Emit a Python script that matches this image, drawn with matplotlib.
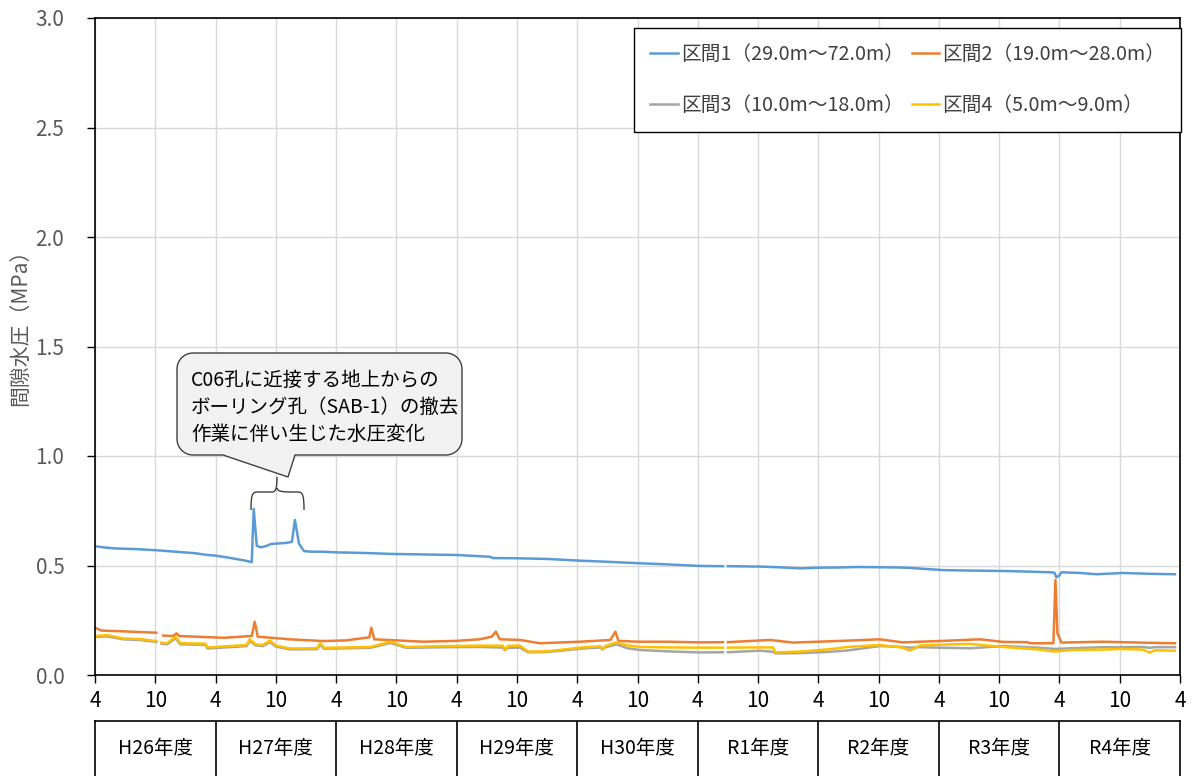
import numpy as np
import matplotlib
matplotlib.use("Agg")
import matplotlib.pyplot as plt
from matplotlib.path import Path
from matplotlib.patches import PathPatch
from matplotlib.transforms import Affine2D

plt.rcParams['font.family'] = ['Noto Sans CJK JP', 'DejaVu Sans']

nan = np.nan

# ---- data (t = months since April of H26) ----
t1 = [0, 1, 2, 4, 6, 8, 10, 11, 12, 13,
      14, 15, 15.6, 15.8, 16.1, 16.5, 17, 17.5, 18, 19,
      19.6, 19.9, 20.3, 20.8, 21.5, 22.7, 24, 27, 29.4, 32,
      36, 39.3, 39.6, 42, 45, 48.3, 51, 54.3, 57, 60.2,
      62.5, 62.8, 63, 66.2, 68, 70.2, 72, 74, 76, 78.1,
      80, 81.1, 84.4, 87, 90.4, 93, 95.1, 95.5, 95.7, 96.0,
      96.2, 98, 99.7, 102.3, 105, 107.5]
v1 = [0.588, 0.582, 0.578, 0.575, 0.570, 0.563, 0.556, 0.549, 0.545, 0.538,
      0.530, 0.522, 0.515, 0.758, 0.590, 0.583, 0.588, 0.598, 0.600, 0.603,
      0.608, 0.708, 0.600, 0.566, 0.563, 0.563, 0.560, 0.557, 0.553, 0.551,
      0.548, 0.540, 0.534, 0.533, 0.530, 0.522, 0.517, 0.510, 0.505, 0.498,
      0.497, nan, 0.497, 0.495, 0.492, 0.487, 0.490, 0.491, 0.493, 0.492,
      0.491, 0.489, 0.479, 0.477, 0.475, 0.472, 0.469, 0.467, 0.446, 0.455,
      0.469, 0.466, 0.460, 0.466, 0.462, 0.460]

t2 = [0, 0.6, 3, 6.1, 6.3, 6.8, 7.8, 8.1, 8.4, 10,
      12.8, 15.6, 15.9, 16.2, 19.4, 22.7, 25, 27.3, 27.5, 27.8,
      30, 32.7, 36, 38.3, 39.5, 39.9, 40.3, 42.3, 44.3, 48.3,
      51.3, 51.8, 52.1, 54, 57, 60.2, 62.5, 62.8, 63, 67.2,
      69.5, 72, 75, 78.1, 80.4, 84, 88.1, 90.4, 92.8, 93,
      95.4, 95.6, 95.8, 96.2, 100.3, 104, 107.5]
v2 = [0.216, 0.203, 0.199, 0.193, nan, 0.180, 0.178, 0.190, 0.178, 0.175,
      0.170, 0.178, 0.243, 0.175, 0.163, 0.155, 0.158, 0.172, 0.216, 0.163,
      0.158, 0.152, 0.156, 0.163, 0.175, 0.198, 0.163, 0.160, 0.145, 0.152,
      0.160, 0.198, 0.156, 0.152, 0.152, 0.149, 0.150, nan, 0.150, 0.160,
      0.148, 0.152, 0.157, 0.163, 0.149, 0.155, 0.163, 0.151, 0.150, 0.145,
      0.145, 0.434, 0.190, 0.148, 0.152, 0.148, 0.145]

t34 = [0, 1.2, 2.8, 4.5, 6.1, 6.3, 6.6, 7.2, 8.0, 8.5,
       11.0, 11.2, 15.1, 15.4, 16.0, 16.7, 17.4, 18.0, 19.4, 22.1,
       22.4, 22.8, 27.4, 29.4, 31.0, 35.0, 38.3, 40.6, 40.8, 41.1,
       42.3, 43.1, 45.0, 48.3, 50.3, 50.5, 50.8, 51.9, 53.0, 54.3,
       57.0, 60.2, 62.5, 62.8, 63.0, 66.2, 67.5, 67.7, 68.2, 70.2,
       73.2, 74.9, 78.1, 80.4, 81.1, 82.1, 83.8, 87.1, 90.4, 93.8,
       95.6, 97.1, 100.3, 102.0, 104.3, 105.0, 105.5, 107.5]
v3 = [0.174, 0.176, 0.163, 0.160, 0.151, nan, 0.143, 0.140, 0.168, 0.140,
      0.138, 0.121, 0.132, 0.155, 0.135, 0.132, 0.150, 0.130, 0.117, 0.118,
      0.138, 0.120, 0.124, 0.146, 0.124, 0.127, 0.128, 0.125, 0.113, 0.124,
      0.125, 0.104, 0.105, 0.120, 0.126, 0.116, 0.126, 0.140, 0.122, 0.114,
      0.108, 0.103, 0.104, nan, 0.104, 0.111, 0.106, 0.099, 0.099, 0.100,
      0.106, 0.112, 0.132, 0.128, 0.125, 0.127, 0.125, 0.122, 0.132, 0.125,
      0.119, 0.122, 0.127, 0.127, 0.128, 0.124, 0.127, 0.127]
v4 = [0.178, 0.182, 0.167, 0.164, 0.155, nan, 0.148, 0.145, 0.175, 0.145,
      0.143, 0.126, 0.137, 0.163, 0.140, 0.137, 0.157, 0.135, 0.121, 0.122,
      0.145, 0.124, 0.128, 0.152, 0.128, 0.132, 0.134, 0.134, 0.115, 0.133,
      0.134, 0.107, 0.108, 0.125, 0.131, 0.118, 0.132, 0.149, 0.135, 0.128,
      0.126, 0.125, 0.125, nan, 0.125, 0.126, 0.126, 0.103, 0.104, 0.107,
      0.118, 0.128, 0.137, 0.125, 0.111, 0.134, 0.138, 0.142, 0.128, 0.117,
      0.107, 0.114, 0.116, 0.119, 0.116, 0.102, 0.113, 0.111]

series_labels = ['区間1（29.0m～72.0m）', '区間2（19.0m～28.0m）',
                 '区間3（10.0m～18.0m）', '区間4（5.0m～9.0m）']
series_colors = ['#5B9BD5', '#ED7D31', '#A5A5A5', '#FFC000']

x_ticks = list(range(0, 109, 6))
x_tick_labels = ['4', '10'] * 9 + ['4']
y_ticks = [0.0, 0.5, 1.0, 1.5, 2.0, 2.5, 3.0]
fiscal_years = ['H26年度', 'H27年度', 'H28年度', 'H29年度', 'H30年度',
                'R1年度', 'R2年度', 'R3年度', 'R4年度']
callout_lines = ['C06孔に近接する地上からの',
                 'ボーリング孔（SAB-1）の撤去',
                 '作業に伴い生じた水圧変化']

# ---- figure ----
W, H = 1195, 776
fig = plt.figure(figsize=(W / 100, H / 100), dpi=100)
ax = fig.add_axes([95 / W, 1 - 675 / H, 1085 / W, 657 / H])

data = [(t1, v1), (t2, v2), (t34, v3), (t34, v4)]
handles = []
for (tt, vv), lab, col in zip(data, series_labels, series_colors):
    h, = ax.plot(tt, vv, color=col, lw=1.8, label=lab, solid_joinstyle='round')
    handles.append(h)

ax.set_xlim(0, 108)
ax.set_ylim(0, 3.0)
ax.set_xticks(x_ticks)
ax.set_xticklabels(x_tick_labels, fontsize=15, color='black')
ax.set_yticks(y_ticks)
ax.set_yticklabels([f'{v:.1f}' for v in y_ticks], fontsize=15, color='#595959')
ax.tick_params(axis='both', direction='out', length=6, width=1, color='black')
ax.tick_params(axis='x', pad=5)
ax.tick_params(axis='y', pad=16)
ax.grid(True, color='#D9D9D9', lw=1)
ax.set_axisbelow(True)
for s in ax.spines.values():
    s.set_color('black')
    s.set_linewidth(1.2)

fig.text(20 / W, 1 - 322 / H, '間隙水圧（MPa）', rotation=90, fontsize=15,
         color='#595959', ha='center', va='center')

order = [0, 2, 1, 3]
leg = ax.legend([handles[i] for i in order], [series_labels[i] for i in order],
                ncol=2, loc='upper right',
                bbox_to_anchor=(1181 / W, 1 - 28 / H),
                bbox_transform=fig.transFigure, borderaxespad=0,
                fontsize=14.2, frameon=True, fancybox=False, framealpha=1,
                handlelength=1.4, handletextpad=0.15, columnspacing=0.4,
                labelspacing=1.55, borderpad=0.8)
leg.get_frame().set_edgecolor('black')
leg.get_frame().set_linewidth(1.0)
for txt in leg.get_texts():
    txt.set_color('#404040')

# ---- fiscal-year table ----
ax2 = fig.add_axes([95 / W, 0, 1085 / W, (776 - 721) / H])
ax2.set_xlim(0, 108)
ax2.set_ylim(0, 1)
ax2.set_xticks([])
ax2.set_yticks([])
ax2.spines['bottom'].set_visible(False)
for s in ['top', 'left', 'right']:
    ax2.spines[s].set_color('black')
    ax2.spines[s].set_linewidth(1.2)
for i in range(1, len(fiscal_years)):
    ax2.axvline(12 * i, color='black', lw=1.2)
for i, fy in enumerate(fiscal_years):
    ax2.text(12 * i + 6, 0.5, fy, ha='center', va='center', fontsize=14,
             color='black')

# ---- callout (pixel coords -> figure) ----
pix = Affine2D().scale(1 / W, -1 / H).translate(0, 1) + fig.transFigure
L, R, T, B, r = 177, 462, 353, 455, 16
k = 0.55 * r
verts = [
    (L + r, T), (R - r, T),
    (R - r + k, T), (R, T + r - k), (R, T + r),
    (R, B - r),
    (R, B - r + k), (R - r + k, B), (R - r, B),
    (295, B), (288, 477), (223, B),
    (L + r, B),
    (L + r - k, B), (L, B - r + k), (L, B - r),
    (L, T + r),
    (L, T + r - k), (L + r - k, T), (L + r, T),
    (L + r, T),
]
codes = [Path.MOVETO, Path.LINETO,
         Path.CURVE4, Path.CURVE4, Path.CURVE4,
         Path.LINETO,
         Path.CURVE4, Path.CURVE4, Path.CURVE4,
         Path.LINETO, Path.LINETO, Path.LINETO,
         Path.LINETO,
         Path.CURVE4, Path.CURVE4, Path.CURVE4,
         Path.LINETO,
         Path.CURVE4, Path.CURVE4, Path.CURVE4,
         Path.CLOSEPOLY]
callout = PathPatch(Path(verts, codes), transform=pix, facecolor='#F2F2F2',
                    edgecolor='#404040', lw=1.0, zorder=5)
fig.add_artist(callout)
for i, line in enumerate(callout_lines):
    fig.text(191 / W, 1 - (380 + 27 * i) / H, line, fontsize=14,
             color='black', ha='left', va='center', zorder=6)

# brace
bl, br, by, bb, bc, btop = 251, 304, 492, 510, 277, 477
bverts = [(bl, bb), (bl, by + 4), (bl + 1, by), (bl + 6, by),
          (bc - 5, by), (bc - 1, by), (bc, by - 4), (bc, btop),
          (bc, by - 4), (bc + 1, by), (bc + 5, by),
          (br - 6, by), (br - 1, by), (br, by + 4), (br, bb)]
bcodes = [Path.MOVETO, Path.CURVE4, Path.CURVE4, Path.CURVE4,
          Path.LINETO, Path.CURVE4, Path.CURVE4, Path.CURVE4,
          Path.MOVETO, Path.CURVE4, Path.CURVE4,
          Path.LINETO, Path.CURVE4, Path.CURVE4, Path.CURVE4]
brace = PathPatch(Path(bverts, bcodes), transform=pix, facecolor='none',
                  edgecolor='#404040', lw=1.0, zorder=5)
fig.add_artist(brace)

fig.savefig('out.png', dpi=100)
